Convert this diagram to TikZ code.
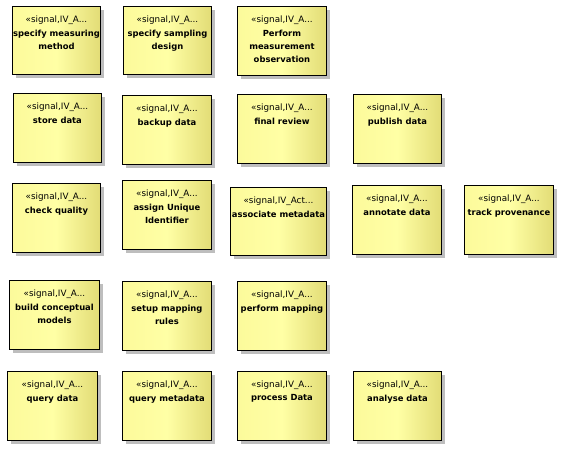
\documentclass[tikz,border=0pt]{standalone}
\usepackage{fontspec}
\setmainfont{DejaVu Sans}
\usetikzlibrary{shadows}
\definecolor{yl}{RGB}{252,250,155}
\definecolor{ym}{RGB}{255,255,165}
\definecolor{yr}{RGB}{226,220,118}
\definecolor{shd}{RGB}{190,190,190}
\tikzset{
  ubox/.style={draw=black, line width=0.9pt, left color=yl, right color=yr, middle color=ym,
    drop shadow={shadow xshift=4pt, shadow yshift=-4pt, fill=shd, opacity=1}},
  stereo/.style={font=\fontsize{8.8}{10}\selectfont, inner sep=0pt, anchor=base},
  ename/.style={font=\fontsize{8.4}{13}\selectfont\bfseries, inner sep=0pt, anchor=north, align=center}
}
\newcommand{\umlbox}[6]{%
  \node[ubox, anchor=north west, minimum width=#4pt-#2pt, minimum height=#5pt-#3pt, inner sep=0pt] (#1) at (#2pt,-#3pt) {};
  \node[stereo] (#1s) at ([yshift=-16pt]#1.north) {«signal,IV\_A...};
  \node[ename] (#1n) at ([yshift=-23.5pt]#1.north) {#6};
}
\begin{document}
\begin{tikzpicture}
\useasboundingbox (0,0) rectangle (564pt,-451pt);
\umlbox{a1}{12}{6}{100}{74}{specify measuring\\method}
\umlbox{a2}{123}{6}{211}{74}{specify sampling\\design}
\umlbox{a3}{237}{6}{326}{75}{Perform\\measurement\\observation}
\umlbox{b1}{13}{93}{101}{162}{store data}
\umlbox{b2}{122}{95}{211}{164}{backup data}
\umlbox{b3}{237}{94}{326}{163}{final review}
\umlbox{b4}{353}{94}{441}{163}{publish data}
\umlbox{c1}{12}{183}{100}{252}{check quality}
\umlbox{c2}{122}{180}{211}{249}{assign Unique\\Identifier}
\node[ubox, anchor=north west, minimum width=96pt, minimum height=68pt, inner sep=0pt] (c3) at (230pt,-187pt) {};
\node[stereo] (c3s) at ([yshift=-16pt]c3.north) {«signal,IV\_Act...};
\node[ename] (c3n) at ([yshift=-23.5pt]c3.north) {associate metadata};
\umlbox{c4}{352}{185}{441}{254}{annotate data}
\umlbox{c5}{464}{185}{553}{254}{track provenance}
\umlbox{d1}{9}{280}{99}{349}{build conceptual\\models}
\umlbox{d2}{122}{281}{211}{350}{setup mapping\\rules}
\umlbox{d3}{237}{281}{326}{350}{perform mapping}
\umlbox{e1}{7}{371}{97}{440}{query data}
\umlbox{e2}{122}{371}{211}{440}{query metadata}
\umlbox{e3}{237}{371}{326}{440}{process Data}
\umlbox{e4}{353}{371}{441}{440}{analyse data}
\end{tikzpicture}
\end{document}
